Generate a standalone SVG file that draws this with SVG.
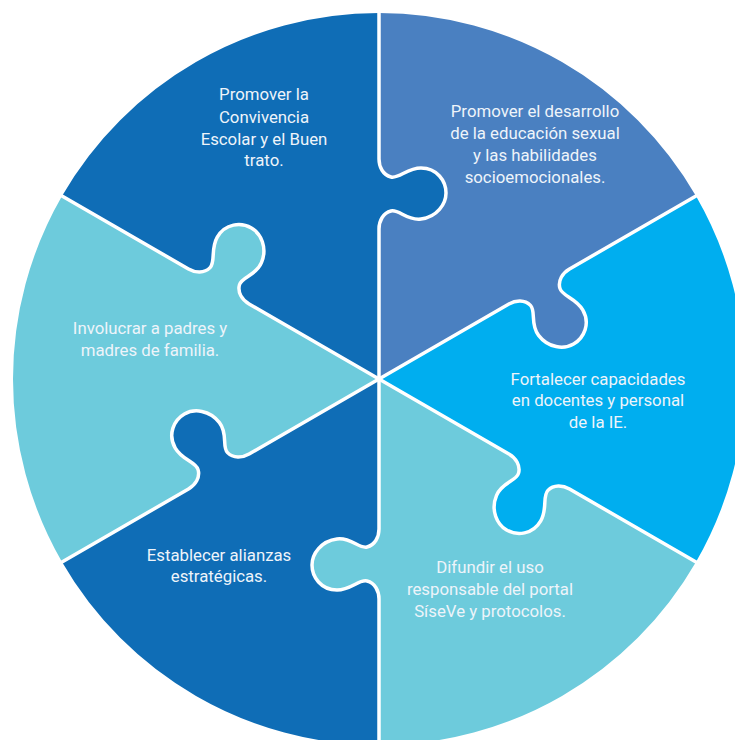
<svg xmlns="http://www.w3.org/2000/svg" width="735" height="740" viewBox="0 0 735 740">
<style>
.t { font-family: Roboto, "Liberation Sans", sans-serif; font-size: 16.8px; fill: #EEF4FA; text-anchor: middle; }
.seam { fill: none; stroke: #FFFFFF; stroke-width: 3.5; stroke-linejoin: round; stroke-linecap: butt; }
</style>
<defs>
<path id="piece" d="M0,0 L150,0 C158,0 166,4 168,12 C170,20 158,28 160,42 C162,58 175,67 186,67 C198,67 211,58 211,42 C211,28 200,20 202,12 C204,4 212,0 220,0 L366,0 A366,366 0 0 0 183,-316.97 L110,-190.53 C106,-183.6 105.46,-174.67 111.39,-168.94 C117.32,-163.21 129.75,-168.73 141.87,-161.73 C155.73,-153.73 157.02,-137.97 151.02,-127.58 C145.52,-118.05 131.23,-111.3 116.37,-117.56 C103.25,-122.83 102.32,-137.22 94.39,-139.49 C86.46,-141.76 79,-136.83 75,-129.9 Z"/>
<path id="seampath" d="M0,0 L150,0 C158,0 166,4 168,12 C170,20 158,28 160,42 C162,58 175,67 186,67 C198,67 211,58 211,42 C211,28 200,20 202,12 C204,4 212,0 220,0 L367,0"/>
</defs>
<rect width="735" height="740" fill="#FFFFFF"/>

<g id="piece-convivencia">
<use href="#piece" transform="translate(379,379) rotate(-90)" fill="#0F6DB6"/>
<text class="t" x="264" y="100">Promover la</text>
<text class="t" x="264" y="122.5">Convivencia</text>
<text class="t" x="264" y="145">Escolar y el Buen</text>
<text class="t" x="264" y="166">trato.</text>
</g>

<g id="piece-educacion-sexual">
<use href="#piece" transform="translate(379,379) rotate(-30)" fill="#4A80C1"/>
<text class="t" x="535" y="117">Promover el desarrollo</text>
<text class="t" x="535" y="139">de la educación sexual</text>
<text class="t" x="535" y="161">y las habilidades</text>
<text class="t" x="535" y="183">socioemocionales.</text>
</g>

<g id="piece-capacidades">
<use href="#piece" transform="translate(379,379) rotate(30)" fill="#00AEEF"/>
<text class="t" x="598" y="384.5">Fortalecer capacidades</text>
<text class="t" x="598" y="406">en docentes y personal</text>
<text class="t" x="598" y="427.5">de la IE.</text>
</g>

<g id="piece-siseve">
<use href="#piece" transform="translate(379,379) rotate(90)" fill="#6DCBDC"/>
<text class="t" x="490" y="573">Difundir el uso</text>
<text class="t" x="490" y="595">responsable del portal</text>
<text class="t" x="490" y="617">SíseVe y protocolos.</text>
</g>

<g id="piece-alianzas">
<use href="#piece" transform="translate(379,379) rotate(150)" fill="#0F6DB6"/>
<text class="t" x="219" y="560.5">Establecer alianzas</text>
<text class="t" x="219" y="582">estratégicas.</text>
</g>

<g id="piece-familia">
<use href="#piece" transform="translate(379,379) rotate(-150)" fill="#6DCBDC"/>
<text class="t" x="150" y="333.5">Involucrar a padres y</text>
<text class="t" x="150" y="355.5">madres de familia.</text>
</g>

<g id="seams">
<use href="#seampath" class="seam" transform="translate(379,379) rotate(-90)"/>
<use href="#seampath" class="seam" transform="translate(379,379) rotate(-30)"/>
<use href="#seampath" class="seam" transform="translate(379,379) rotate(30)"/>
<use href="#seampath" class="seam" transform="translate(379,379) rotate(90)"/>
<use href="#seampath" class="seam" transform="translate(379,379) rotate(150)"/>
<use href="#seampath" class="seam" transform="translate(379,379) rotate(-150)"/>
</g>
</svg>
